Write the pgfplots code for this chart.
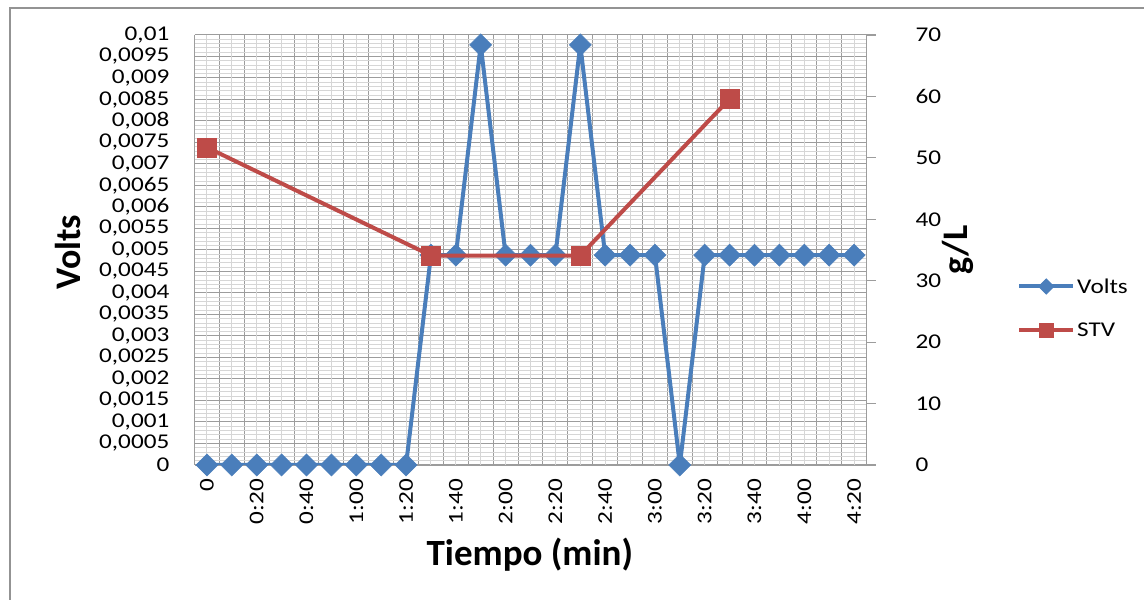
\documentclass[border=0pt]{standalone}
\usepackage{fontspec}
\setmainfont{Carlito}
\newfontfamily\tickfont{Carlito}[FakeStretch=1.2]
\usepackage{pgfplots}
\pgfplotsset{compat=1.18}
\definecolor{vblue}{HTML}{4A7EBB}
\definecolor{sred}{HTML}{BE4B48}
\definecolor{gdark}{HTML}{9C9C9C}
\definecolor{glight}{HTML}{D6D6D6}
\pgfplotsset{
  voltstyle/.style={color=vblue, line width=4bp, mark=square*, mark size=7.8bp,
    mark options={rotate=45, solid, fill=vblue, draw=vblue, line width=0.5bp}},
  stvstyle/.style={color=sred, line width=4bp, mark=square*, mark size=9.5bp,
    mark options={solid, fill=sred, draw=sred, line width=0.5bp}},
}
\begin{document}
\begin{tikzpicture}[x=1bp,y=1bp]
\useasboundingbox (0,0) rectangle (1144,600);
\draw[color=gray!85, line width=1.5bp] (10,-5) -- (10,592) -- (1150,592);
\begin{axis}[
  at={(194.5bp,135bp)}, anchor=south west,
  scale only axis, width=672bp, height=430bp,
  xmin=-0.5, xmax=26.5, ymin=0, ymax=0.01,
  xtick={-0.5,0.5,...,26.5},
  xticklabel=\empty,
  extra x ticks={0,1,...,26},
  extra x tick labels={0,,0:20,,0:40,,1:00,,1:20,,1:40,,2:00,,2:20,,2:40,,3:00,,3:20,,3:40,,4:00,,4:20},
  extra x tick style={major grid style={glight, line width=1bp}},
  ytick={0,0.0005,0.001,0.0015,0.002,0.0025,0.003,0.0035,0.004,0.0045,0.005,0.0055,0.006,0.0065,0.007,0.0075,0.008,0.0085,0.009,0.0095,0.01},
  minor y tick num=4,
  scaled y ticks=false,
  /pgf/number format/use comma,
  /pgf/number format/assume math mode=true,
  yticklabel style={/pgf/number format/fixed, /pgf/number format/precision=4},
  grid=both,
  major grid style={gdark, line width=1bp},
  minor grid style={glight, line width=1bp},
  major tick length=0pt, minor tick length=0pt,
  axis x line=bottom, axis y line=left,
  axis line style={-},
  x axis line style={gdark, line width=1.2bp},
  y axis line style={draw=none},
  tick label style={font=\tickfont\fontsize{21bp}{23bp}\selectfont, text=black},
  yticklabel style={anchor=east, inner sep=0pt, xshift=-25bp},
  xticklabel style={yshift=-14bp, anchor=east, rotate=90, inner sep=0pt},
  ylabel={Volts},
  xlabel={Tiempo (min)},
  every axis y label/.style={at={(axis description cs:-0.188,0.495)}, rotate=90, anchor=center, font=\bfseries\fontsize{36bp}{40bp}\selectfont},
  every axis x label/.style={at={(axis description cs:0.499,-0.209)}, anchor=center, font=\bfseries\fontsize{37bp}{40bp}\selectfont},
]
\addplot[voltstyle] coordinates {
(0,0) (1,0) (2,0) (3,0) (4,0) (5,0) (6,0) (7,0) (8,0)
(9,0.00488) (10,0.00488) (11,0.00977) (12,0.00488) (13,0.00488) (14,0.00488)
(15,0.00977) (16,0.00488) (17,0.00488) (18,0.00488) (19,0)
(20,0.00488) (21,0.00488) (22,0.00488) (23,0.00488) (24,0.00488) (25,0.00488) (26,0.00488)
};
\end{axis}
\begin{axis}[
  at={(194.5bp,135bp)}, anchor=south west,
  scale only axis, width=672bp, height=430bp,
  xmin=-0.5, xmax=26.5, ymin=0, ymax=70,
  ytick={0,10,...,70},
  axis x line=none, axis y line*=right,
  axis line style={-},
  y axis line style={gdark, line width=1.2bp},
  tick align=outside, major tick length=9bp,
  every tick/.style={gdark, line width=1.2bp},
  /pgf/number format/assume math mode=true,
  tick label style={font=\tickfont\fontsize{21bp}{23bp}\selectfont, text=black},
  yticklabel style={anchor=west, inner sep=0pt, xshift=40bp},
  ylabel={g/L},
  every axis y label/.style={at={(axis description cs:1.136,0.5)}, rotate=90, anchor=center, font=\bfseries\fontsize{36bp}{40bp}\selectfont},
  legend style={at={(axis description cs:1.224,0.365)}, anchor=west, draw=none, fill=none,
    inner sep=0pt, row sep=24bp, font=\tickfont\fontsize{21bp}{23bp}\selectfont,
    nodes={inner sep=2bp}},
  legend cell align=left,
  legend image code/.code={\draw[mark repeat=2,mark phase=2,#1] plot coordinates {(0bp,0bp) (27bp,0bp) (54bp,0bp)};},
]
\addlegendimage{voltstyle, mark size=5.5bp}
\addlegendentry{Volts}
\addlegendimage{stvstyle, mark size=7bp}
\addlegendentry{STV}
\addplot[stvstyle, forget plot] coordinates {(0,51.7) (9,34.1) (15,34.1) (21,59.6)};
\end{axis}
\end{tikzpicture}
\end{document}
